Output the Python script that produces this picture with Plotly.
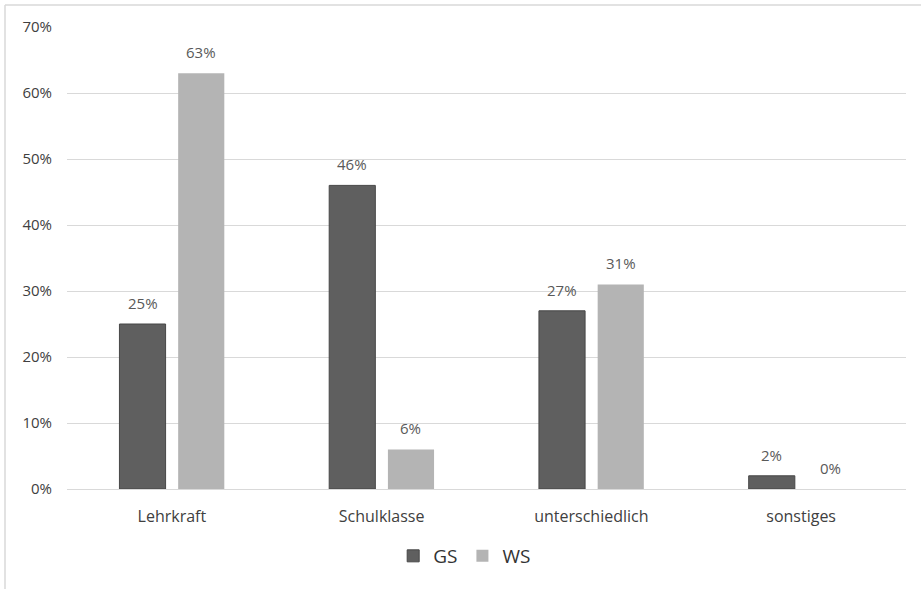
import plotly.graph_objects as go

# Categories and shares (fractions)
categories = ["Lehrkraft", "Schulklasse", "unterschiedlich", "sonstiges"]
gs_values = [0.25, 0.46, 0.27, 0.02]
ws_values = [0.63, 0.06, 0.31, 0.00]
y_tick_values = [0, 0.1, 0.2, 0.3, 0.4, 0.5, 0.6, 0.7]
y_tick_labels = ["0%", "10%", "20%", "30%", "40%", "50%", "60%", "70%"]

FONT = "'Open Sans', sans-serif"
BAR_W = 0.22
GS_OFF = -0.25
WS_OFF = 0.03

x_idx = list(range(len(categories)))

fig = go.Figure()
fig.add_trace(go.Bar(
    name="GS", x=x_idx, y=gs_values, width=BAR_W, offset=GS_OFF,
    marker=dict(color="#5f5f5f", line=dict(color="#474747", width=1)),
))
fig.add_trace(go.Bar(
    name="WS", x=x_idx, y=ws_values, width=BAR_W, offset=WS_OFF,
    marker=dict(color="#b4b4b4", line=dict(width=0)),
))

# Value labels above each bar
annotations = []
for vals, off in ((gs_values, GS_OFF), (ws_values, WS_OFF)):
    for i, v in enumerate(vals):
        annotations.append(dict(
            x=i + off + BAR_W / 2, y=v, xref="x", yref="y",
            text=f"{round(v * 100)}%", showarrow=False,
            yanchor="middle", yshift=21,
            font=dict(family=FONT, size=15, color="#595959"),
        ))

# Light frame along the top and left edges
frame = "#d9d9d9"
shapes = [
    dict(type="line", xref="paper", yref="paper", x0=-0.0739, x1=1.1, y0=1.0476, y1=1.0476,
         line=dict(color=frame, width=1.5)),
    dict(type="line", xref="paper", yref="paper", x0=-0.0739, x1=-0.0739, y0=1.0476, y1=-0.3,
         line=dict(color=frame, width=1.5)),
]

fig.update_layout(
    width=921, height=589,
    margin=dict(l=67, r=15, t=27, b=100),
    paper_bgcolor="white", plot_bgcolor="white",
    barmode="group",
    font=dict(family=FONT, color="#595959"),
    showlegend=True,
    legend=dict(
        orientation="h", x=0.474, xanchor="center", y=-0.145, yanchor="middle",
        font=dict(family=FONT, size=19, color="#333333"),
        itemwidth=30, traceorder="normal",
    ),
    annotations=annotations,
    shapes=shapes,
    xaxis=dict(
        range=[-0.5, 3.5], tickvals=x_idx, ticktext=categories,
        showgrid=False, zeroline=False, showline=False, ticks="",
        ticklabelstandoff=16,
        tickfont=dict(family=FONT, size=16, color="#404040"),
    ),
    yaxis=dict(
        range=[0, 0.7], tickvals=y_tick_values, ticktext=y_tick_labels,
        showgrid=True, gridcolor="#d9d9d9", gridwidth=1,
        zeroline=True, zerolinecolor="#d9d9d9", zerolinewidth=1,
        showline=False, ticks="", ticklabelstandoff=14,
        tickfont=dict(family=FONT, size=15, color="#404040"),
    ),
)

fig.write_html("out.html")
